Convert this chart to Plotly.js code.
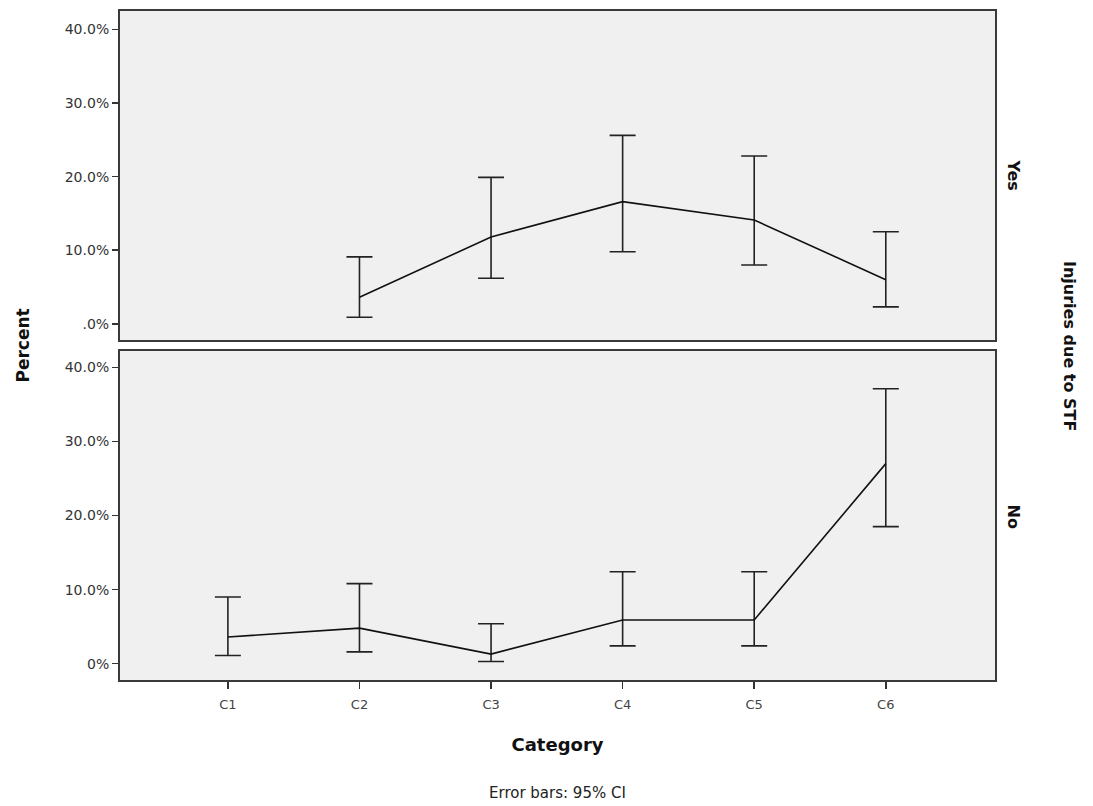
<!DOCTYPE html>
<html>
<head>
<meta charset="utf-8">
<script src="https://cdn.plot.ly/plotly-3.0.1.min.js"></script>
<style>html,body{margin:0;padding:0;background:#fff;}#chart{width:1093px;height:806px;}</style>
</head>
<body>
<div id="chart"></div>
<script>
const categories = ["C1","C2","C3","C4","C5","C6"];
// Panel "Yes"
const yesMean  = [null, 3.6, 11.8, 16.6, 14.1, 6.0];
const yesLower = [null, 0.9, 6.2, 9.8, 8.0, 2.3];
const yesUpper = [null, 9.1, 19.9, 25.6, 22.8, 12.5];
// Panel "No"
const noMean  = [3.6, 4.8, 1.3, 5.9, 5.9, 27.0];
const noLower = [1.1, 1.6, 0.3, 2.4, 2.4, 18.5];
const noUpper = [9.0, 10.8, 5.4, 12.4, 12.4, 37.1];
const yTickVals = [0, 10, 20, 30, 40];
const yTickTextTop = [".0%", "10.0%", "20.0%", "30.0%", "40.0%"];
const yTickTextBottom = ["0%", "10.0%", "20.0%", "30.0%", "40.0%"];

function errs(mean, lo, hi) {
  return {
    plus: mean.map((m, i) => m == null ? null : hi[i] - m),
    minus: mean.map((m, i) => m == null ? null : m - lo[i])
  };
}
const eYes = errs(yesMean, yesLower, yesUpper);
const eNo = errs(noMean, noLower, noUpper);

const lineStyle = {color: "#111", width: 1.6};
const errStyle = {type: "data", symmetric: false, color: "#222", thickness: 1.6, width: 13};

const traces = [
  {x: categories, y: yesMean, xaxis: "x2", yaxis: "y2", type: "scatter", mode: "lines",
   line: lineStyle, connectgaps: false,
   error_y: Object.assign({array: eYes.plus, arrayminus: eYes.minus}, errStyle), hoverinfo: "skip"},
  {x: categories, y: noMean, xaxis: "x", yaxis: "y", type: "scatter", mode: "lines",
   line: lineStyle,
   error_y: Object.assign({array: eNo.plus, arrayminus: eNo.minus}, errStyle), hoverinfo: "skip"}
];

const FAM = "DejaVu Sans, Liberation Sans, Arial";
const tickFont = {family: FAM, size: 14, color: "#333"};
const frame = {showline: true, mirror: true, linecolor: "#3a3a3a", linewidth: 2, zeroline: false, showgrid: false};

const layout = {
  width: 1093, height: 806,
  margin: {l: 120, r: 98, t: 11, b: 126},
  paper_bgcolor: "#ffffff",
  plot_bgcolor: "#f0f0f0",
  showlegend: false,
  font: {family: FAM, color: "#222"},
  xaxis: Object.assign({}, frame, {
    type: "category", domain: [0, 1], anchor: "y",
    range: [-0.82, 5.83],
    ticks: "outside", ticklen: 7, tickcolor: "#333", tickwidth: 1.5,
    ticklabelstandoff: 4,
    tickfont: {family: FAM, size: 13, color: "#444"},
    title: {text: "Category", font: {family: FAM, size: 18, color: "#111", weight: "bold"}, standoff: 28}
  }),
  yaxis: Object.assign({}, frame, {
    domain: [0, 0.4918], anchor: "x",
    range: [-2.2, 42.2],
    tickvals: yTickVals, ticktext: yTickTextBottom,
    ticks: "outside", ticklen: 6, tickcolor: "#333", tickwidth: 1.5,
    tickfont: tickFont
  }),
  xaxis2: Object.assign({}, frame, {
    type: "category", domain: [0, 1], anchor: "y2",
    range: [-0.82, 5.83],
    showticklabels: false, ticks: ""
  }),
  yaxis2: Object.assign({}, frame, {
    domain: [0.5082, 1], anchor: "x2",
    range: [-2.2, 42.5],
    tickvals: yTickVals, ticktext: yTickTextTop,
    ticks: "outside", ticklen: 6, tickcolor: "#333", tickwidth: 1.5,
    tickfont: tickFont
  }),
  annotations: [
    {text: "Percent", textangle: -90, xref: "paper", yref: "paper", x: -0.112, y: 0.5,
     xanchor: "center", yanchor: "middle", showarrow: false,
     font: {family: FAM, size: 17, color: "#111", weight: "bold"}},
    {text: "Yes", textangle: 90, xref: "paper", yref: "paper", x: 1.008, y: 0.755,
     xanchor: "left", yanchor: "middle", showarrow: false,
     font: {family: FAM, size: 16, color: "#111", weight: "bold"}},
    {text: "No", textangle: 90, xref: "paper", yref: "paper", x: 1.008, y: 0.245,
     xanchor: "left", yanchor: "middle", showarrow: false,
     font: {family: FAM, size: 16, color: "#111", weight: "bold"}},
    {text: "Injuries due to STF", textangle: 90, xref: "paper", yref: "paper", x: 1.072, y: 0.5,
     xanchor: "left", yanchor: "middle", showarrow: false,
     font: {family: FAM, size: 16, color: "#111", weight: "bold"}},
    {text: "Error bars: 95% CI", xref: "paper", yref: "paper", x: 0.5, y: -0.152,
     xanchor: "center", yanchor: "top", showarrow: false,
     font: {family: FAM, size: 15, color: "#222"}}
  ]
};

Plotly.newPlot("chart", traces, layout, {displayModeBar: false, staticPlot: true});
</script>
</body>
</html>
